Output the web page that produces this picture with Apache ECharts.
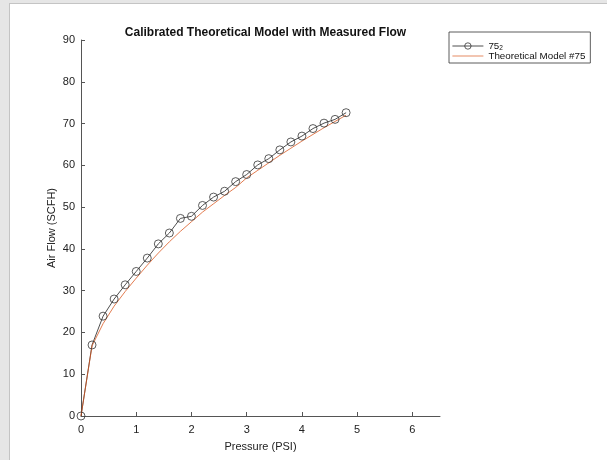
<!DOCTYPE html>
<html>
<head>
<meta charset="utf-8">
<script src="https://cdn.jsdelivr.net/npm/echarts@6/dist/echarts.min.js"></script>
<style>
  body { margin: 0; background: #e6e6e6; }
  #frame { position: absolute; left: 9px; top: 3px; width: 598px; height: 456px; background: #fff;
           border-top: 1px solid #c4c4c4; border-left: 1px solid #c4c4c4; border-bottom: 1px solid #d0d0d0; }
  #chart { position: absolute; left: 0; top: 0; width: 607px; height: 460px; }
</style>
</head>
<body>
<div id="frame"></div>
<div id="chart"></div>
<script>
// measured flow vs pressure
var pressure = [0, 0.2, 0.4, 0.6, 0.8, 1.0, 1.2, 1.4, 1.6, 1.8, 2.0, 2.2, 2.4, 2.6, 2.8, 3.0, 3.2, 3.4, 3.6, 3.8, 4.0, 4.2, 4.4, 4.6, 4.8];
var measured = [0, 17.0, 23.9, 28.0, 31.4, 34.6, 37.8, 41.2, 43.8, 47.3, 47.8, 50.4, 52.4, 53.8, 56.1, 57.8, 60.1, 61.6, 63.7, 65.6, 67.0, 68.8, 70.1, 71.0, 72.6];
var theoretical = [0, 16.8, 22.1, 26.3, 29.8, 33.0, 36.1, 39.0, 41.7, 44.2, 46.5, 48.8, 50.8, 52.8, 54.7, 57.0, 58.8, 60.6, 62.4, 64.1, 65.8, 67.4, 69.0, 70.5, 72.0];
var xTicks = [0, 1, 2, 3, 4, 5, 6];
var yTicks = [0, 10, 20, 30, 40, 50, 60, 70, 80, 90];

var font = 'Liberation Sans, Arial, Helvetica, sans-serif';
var axisGray = '#555';

function pairs(xs, ys) {
  return xs.map(function (x, i) { return [x, ys[i]]; });
}

var chart = echarts.init(document.getElementById('chart'));
var option = {
  backgroundColor: 'transparent',
  animation: false,
  title: {
    text: 'Calibrated Theoretical Model with Measured Flow',
    left: 260.5,
    textAlign: 'center',
    top: 22,
    textStyle: { fontFamily: font, fontSize: 12, fontWeight: 'bold', color: '#111' }
  },
  legend: {
    orient: 'vertical',
    left: 449,
    top: 32,
    padding: [8, 5, 2, 3],
    itemGap: -1,
    itemWidth: 31,
    itemHeight: 8,
    borderColor: '#333',
    borderWidth: 0.8,
    backgroundColor: '#fff',
    lineStyle: { width: 0.8 },
    itemStyle: { borderWidth: 0.8 },
    textStyle: {
      fontFamily: font, fontSize: 9.8, color: '#111', lineHeight: 9,
      rich: { sub: { fontFamily: font, fontSize: 6.5, lineHeight: 9, padding: [5, 0, 0, 0] } }
    },
    formatter: function (name) {
      return name === '75_2' ? '75{sub|2}' : name;
    },
    data: [
      { name: '75_2' },
      { name: 'Theoretical Model #75', itemStyle: { opacity: 0 } }
    ]
  },
  grid: { left: 81, right: 167, top: 40, bottom: 44 },
  xAxis: {
    type: 'value',
    min: 0,
    max: 6.5,
    interval: 1,
    name: 'Pressure (PSI)',
    nameLocation: 'middle',
    nameGap: 25,
    nameTextStyle: { fontFamily: font, fontSize: 11, color: '#222' },
    axisLine: { lineStyle: { color: axisGray, width: 1 } },
    axisTick: { inside: true, length: 4, lineStyle: { color: axisGray }, customValues: xTicks },
    axisLabel: { fontFamily: font, fontSize: 11, color: '#222', margin: 8, customValues: xTicks },
    splitLine: { show: false }
  },
  yAxis: {
    type: 'value',
    min: 0,
    max: 90,
    interval: 10,
    name: 'Air Flow (SCFH)',
    nameLocation: 'middle',
    nameGap: 24,
    nameMoveOverlap: false,
    nameTextStyle: { fontFamily: font, fontSize: 11, color: '#222' },
    axisLine: { show: true, lineStyle: { color: axisGray, width: 1 } },
    axisTick: { show: true, inside: true, length: 4, lineStyle: { color: axisGray }, customValues: yTicks },
    axisLabel: { fontFamily: font, fontSize: 11, color: '#222', margin: 6, customValues: yTicks },
    splitLine: { show: false }
  },
  series: [
    {
      name: '75_2',
      type: 'line',
      data: pairs(pressure, measured),
      symbol: 'circle',
      symbolSize: 8,
      showAllSymbol: true,
      lineStyle: { color: '#222', width: 0.8 },
      itemStyle: { color: 'rgba(255,255,255,0)', borderColor: '#333', borderWidth: 0.8 }
    },
    {
      name: 'Theoretical Model #75',
      type: 'line',
      data: pairs(pressure, theoretical),
      symbol: 'none',
      lineStyle: { color: '#d95319', width: 0.9, opacity: 0.85 },
      itemStyle: { color: '#d95319' },
      z: 3
    }
  ]
};
chart.setOption(option);
</script>
</body>
</html>
